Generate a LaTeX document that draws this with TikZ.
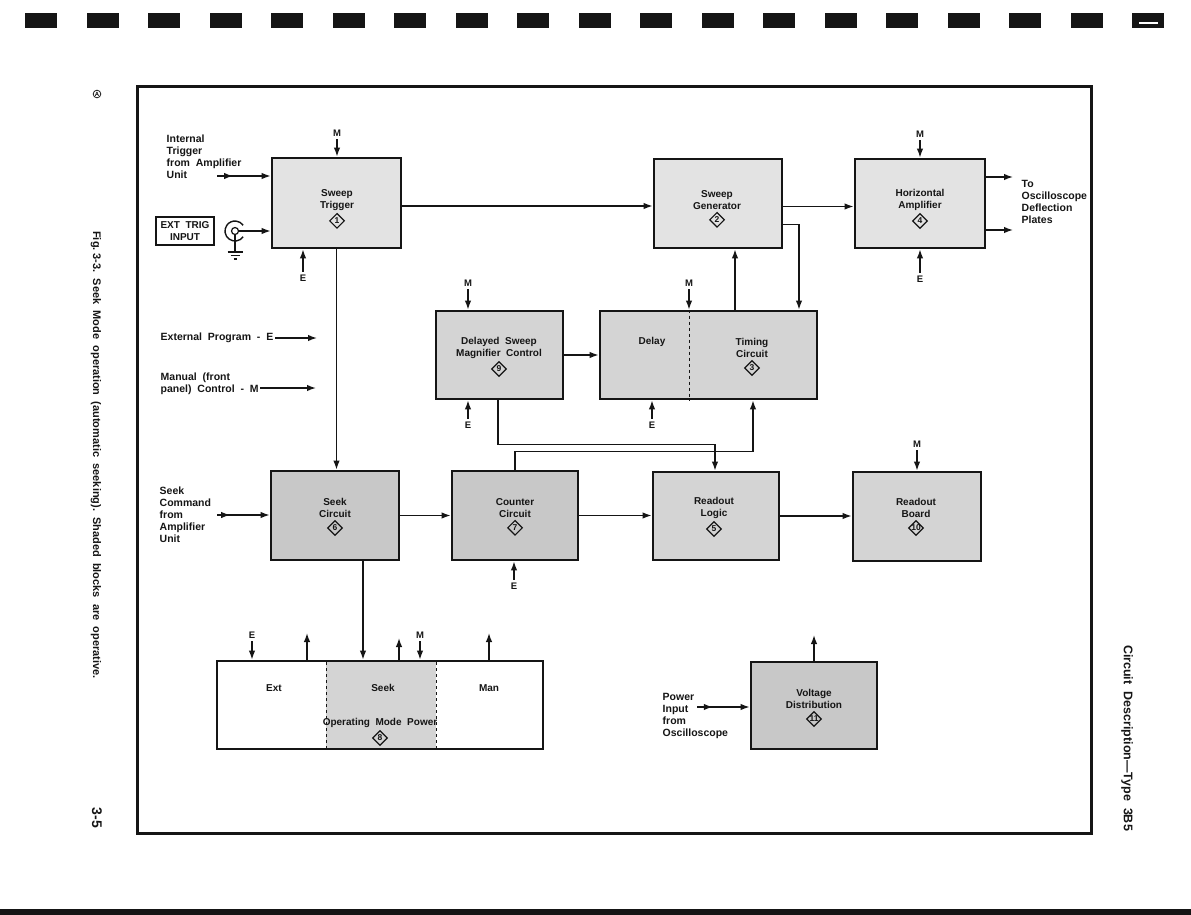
\documentclass[tikz,border=0pt]{standalone}
\usepackage{fontspec}
\setmainfont{Liberation Sans}
\usetikzlibrary{arrows.meta,calc,positioning,shapes.geometric,decorations.markings}
\definecolor{TekInk}{HTML}{151515}
\definecolor{TekShadeLt}{HTML}{E3E3E3}
\definecolor{TekShade}{HTML}{D4D4D4}
\definecolor{TekShadeDk}{HTML}{C8C8C8}
\tikzset{
  tek block/.style={
    draw=TekInk,
    fill=TekShade,
    line width=2.8pt,
    inner sep=0pt
  },
  tek text/.style={
    text=TekInk,
    align=center,
    inner sep=0pt,
    font=\fontsize{10}{12}\selectfont\bfseries
  },
  tek label/.style={
    text=TekInk,
    align=left,
    inner sep=1.5pt,
    font=\fontsize{10.5}{12}\selectfont\bfseries
  },
  tek tag/.style={
    text=TekInk,
    inner sep=3pt,
    font=\fontsize{9.5}{10}\selectfont\bfseries
  },
  tek num/.style={
    diamond,
    draw=TekInk,
    line width=1.2pt,
    inner sep=0pt,
    minimum size=15pt,
    text=TekInk,
    font=\fontsize{8.5}{9}\selectfont\bfseries
  },
  tek sig/.style={-{Latex[length=9pt,width=6.5pt]},draw=TekInk,line width=1.4pt},
  tek line/.style={draw=TekInk,line width=1.4pt},
  tek mid/.style={postaction={decorate},
    decoration={markings,mark=at position #1 with {\arrow{Latex[length=9pt,width=6.5pt]}}}}
}

\begin{document}
\begin{tikzpicture}[x=1pt,y=-1pt]
  \useasboundingbox (0,0) rectangle (1191,915);

  % page furniture
  \foreach \i in {0,...,18}
    \fill[TekInk] (25+61.5*\i,13) rectangle ++(32,15);
  \fill[white] (1139,22) rectangle (1158,24);
  \fill[TekInk] (0,909) rectangle (1191,915);
  \draw[TekInk,line width=3pt] (137,87) rectangle (1091,833);
  \node[circle,draw=TekInk,line width=0.8pt,inner sep=0.6pt,font=\fontsize{6}{6}\selectfont\bfseries] (rev) at (97,94) {A};
  \node[tek label,rotate=-90,font=\fontsize{11}{12}\selectfont\bfseries] (caption) at (96,455) {Fig.\ 3-3.\ \ Seek\ \ Mode\ \ operation\ \ (automatic\ \ seeking).\ \ Shaded\ \ blocks\ \ are\ \ operative.};
  \node[tek label,rotate=-90,font=\fontsize{12.5}{13}\selectfont\bfseries] (section) at (1127,738) {Circuit\ \ Description---Type\ \ 3B5};
  \node[tek label,rotate=-90,font=\fontsize{14}{14}\selectfont\bfseries] (page) at (97,818) {3-5};

  % blocks
  \node[tek block,fill=TekShadeLt,minimum width=129pt,minimum height=90pt] (trig) at (336.5,203) {};
  \node[tek text] (trigT) at (337,200) {Sweep\\Trigger};
  \node[tek num,below=2pt of trigT] (trigN) {1};

  \node[tek block,fill=TekShadeLt,minimum width=128pt,minimum height=89pt] (gen) at (718,203.5) {};
  \node[tek text] (genT) at (717,200) {Sweep\\Generator};
  \node[tek num,below=2pt of genT] (genN) {2};

  \node[tek block,fill=TekShadeLt,minimum width=130pt,minimum height=89pt] (hamp) at (920,203.5) {};
  \node[tek text] (hampT) at (920,200) {Horizontal\\Amplifier};
  \node[tek num,below=2pt of hampT] (hampN) {4};

  \node[tek block,minimum width=127pt,minimum height=88pt] (dsm) at (499.5,355) {};
  \node[tek text] (dsmT) at (499,348) {Delayed\ \ Sweep\\Magnifier\ \ Control};
  \node[tek num,below=2pt of dsmT] (dsmN) {9};

  \node[tek block,minimum width=217pt,minimum height=88pt] (dly) at (708.5,355) {};
  \draw[TekInk,line width=1pt,dashed] ([xshift=-19.5pt]dly.north) -- ([xshift=-19.5pt]dly.south);
  \node[tek text] (dlyT) at (652,342) {Delay};
  \node[tek text] (timT) at (752,348) {Timing\\Circuit};
  \node[tek num,below=2pt of timT] (timN) {3};

  \node[tek block,fill=TekShadeDk,minimum width=128pt,minimum height=89pt] (seek) at (335,515.5) {};
  \node[tek text] (seekT) at (335,508) {Seek\\Circuit};
  \node[tek num,below=2pt of seekT] (seekN) {6};

  \node[tek block,fill=TekShadeDk,minimum width=126pt,minimum height=89pt] (cnt) at (515,515.5) {};
  \node[tek text] (cntT) at (515,508) {Counter\\Circuit};
  \node[tek num,below=2pt of cntT] (cntN) {7};

  \node[tek block,minimum width=126pt,minimum height=88pt] (rdl) at (716,516) {};
  \node[tek text] (rdlT) at (714,508) {Readout\\Logic};
  \node[tek num,below=2pt of rdlT] (rdlN) {5};

  \node[tek block,minimum width=128pt,minimum height=89pt] (rdb) at (917,516.5) {};
  \node[tek text] (rdbT) at (916,508) {Readout\\Board};
  \node[tek num,below=2pt of rdbT] (rdbN) {\makebox[0pt]{10}};

  \node[tek block,fill=white,outer sep=0pt,minimum width=326pt,minimum height=88pt] (opm) at (380,705) {};
  \fill[TekShade] ([xshift=109pt]opm.south west) rectangle ([xshift=-107pt]opm.north east);
  \draw[TekInk,line width=1pt,dashed] ([xshift=109pt]opm.south west) -- ([xshift=109pt]opm.north west);
  \draw[TekInk,line width=1pt,dashed] ([xshift=-107pt]opm.south east) -- ([xshift=-107pt]opm.north east);
  \draw[TekInk,line width=2.8pt] (opm.south west) rectangle (opm.north east);
  \node[tek text] (opmExt) at (274,688) {Ext};
  \node[tek text] (opmSeek) at (383,688) {Seek};
  \node[tek text] (opmMan) at (489,688) {Man};
  \node[tek text] (opmT) at (380,723) {Operating\ \ Mode\ \ Power};
  \node[tek num,below=2pt of opmT] (opmN) {8};

  \node[tek block,fill=TekShadeDk,minimum width=126pt,minimum height=87pt] (vdist) at (814,705.5) {};
  \node[tek text] (vdistT) at (814,699) {Voltage\\Distribution};
  \node[tek num,below=2pt of vdistT] (vdistN) {\makebox[0pt]{11}};

  % outside labels
  \node[tek label,anchor=north west] (intTrig) at (165,133) {Internal\\Trigger\\from\ \ Amplifier\\Unit};
  \node[draw=TekInk,line width=1.3pt,tek text,inner sep=2pt,minimum width=58pt,minimum height=28pt] (extTrig) at (185,231) {EXT\ \ TRIG\\INPUT};
  \node[circle,draw=TekInk,line width=1.2pt,minimum size=7pt,inner sep=0pt] (jack) at (235,231) {};
  \draw[tek line] (jack) ++(35:10) arc (35:325:10);
  \coordinate (gnd) at (235,252);
  \draw[tek line] (jack.south) -- (gnd);
  \draw[tek line] ([xshift=-7.5pt]gnd) -- ([xshift=7.5pt]gnd)
    ([xshift=-4.5pt,yshift=-3.5pt]gnd) -- ([xshift=4.5pt,yshift=-3.5pt]gnd)
    ([xshift=-1.5pt,yshift=-7pt]gnd) -- ([xshift=1.5pt,yshift=-7pt]gnd);
  \node[tek label,anchor=north west] (toScope) at (1020,179) {To\\Oscilloscope\\Deflection\\Plates};
  \node[tek label,anchor=west] (extProg) at (159,338) {External\ \ Program\ \ -\ \ E};
  \node[tek label,anchor=north west] (manCtl) at (159,371) {Manual\ \ (front\\panel)\ \ Control\ \ -\ \ M};
  \node[tek label,anchor=north west] (seekCmd) at (158,485) {Seek\\Command\\from\\Amplifier\\Unit};
  \node[tek label,anchor=north west] (pwrIn) at (661,692) {Power\\Input\\from\\Oscilloscope};

  % E and M control tags
  \node[tek tag] (trigM) at (337,133) {M};
  \node[tek tag] (trigE) at (303,278) {E};
  \node[tek tag] (hampM) at (920,134) {M};
  \node[tek tag] (hampE) at (920,279) {E};
  \node[tek tag] (dsmM) at (468,283) {M};
  \node[tek tag] (dsmE) at (468,425) {E};
  \node[tek tag] (dlyM) at (689,283) {M};
  \node[tek tag] (dlyE) at (652,425) {E};
  \node[tek tag] (cntE) at (514,586) {E};
  \node[tek tag] (rdbM) at (917,444) {M};
  \node[tek tag] (opmE) at (252,635) {E};
  \node[tek tag] (opmM) at (420,635) {M};

  \coordinate (intIn) at (217,176);
  \coordinate (seekIn) at (217,515);
  \coordinate (pwrSrc) at (697,707);
  \coordinate (extTip) at (317,338);
  \coordinate (manTip) at (316,388);
  \coordinate (defl1) at (1013,177);
  \coordinate (defl2) at (1013,230);
  \coordinate (opmUp1) at (307,633);
  \coordinate (opmUp2) at (399,638);
  \coordinate (opmUp3) at (489,633);
  \coordinate (vdistUp) at (814,635);

  % signal paths
  \draw[tek sig,tek mid=0.3] (intIn) -- (intIn -| trig.west);
  \draw[tek sig] (jack) -- (jack -| trig.west);
  \draw[tek sig] ([yshift=-3pt]trig.east) -- ([yshift=-3pt]trig.east -| gen.west);
  \draw[tek sig] ([yshift=-3pt]gen.east) -- ([yshift=-3pt]gen.east -| hamp.west);
  \draw[tek sig] ([yshift=26.5pt]hamp.east) -- (defl1);
  \draw[tek sig] ([yshift=-26.5pt]hamp.east) -- (defl2);
  \draw[tek sig] ([yshift=-21pt]gen.east) -| ([xshift=90.5pt]dly.north);
  \draw[tek sig] ([xshift=26.5pt]dly.north) -- ([xshift=26.5pt]dly.north |- gen.south);
  \draw[tek sig] (dsm) -- (dly);
  \draw[tek sig] (trig.south) -- (trig.south |- seek.north);
  \draw[tek sig] ([xshift=-1.5pt]dsm.south) -- ++(0,44) -| ([xshift=-1pt]rdl.north);
  \draw[tek sig] (cnt.north) -- ++(0,-18) -| ([xshift=44.5pt]dly.south);
  \draw[tek sig,tek mid=0.25] (seekIn) -- (seekIn -| seek.west);
  \draw[tek sig] (seek) -- (cnt);
  \draw[tek sig] (cnt.east) -- (cnt.east -| rdl.west);
  \draw[tek sig] (rdl.east) -- (rdl.east -| rdb.west);
  \draw[tek sig] ([xshift=28pt]seek.south) -- ([xshift=28pt,yshift=1.4pt]seek.south |- opm.north);
  \draw[tek sig,tek mid=0.3] (pwrSrc) -- (pwrSrc -| vdist.west);
  \draw[tek sig] (vdist.north) -- (vdistUp);
  \draw[tek sig] (opmUp1 |- opm.north) -- (opmUp1);
  \draw[tek sig] (opmUp2 |- opm.north) -- (opmUp2);
  \draw[tek sig] (opmUp3 |- opm.north) -- (opmUp3);
  \draw[tek sig] (extProg) -- (extTip);
  \draw[tek sig] (manCtl.east |- manTip) -- (manTip);

  % control inputs
  \draw[tek sig] (trigM) -- (trigM |- trig.north);
  \draw[tek sig] (trigE) -- (trigE |- trig.south);
  \draw[tek sig] (hampM) -- (hampM |- hamp.north);
  \draw[tek sig] (hampE) -- (hampE |- hamp.south);
  \draw[tek sig] (dsmM) -- (dsmM |- dsm.north);
  \draw[tek sig] (dsmE) -- (dsmE |- dsm.south);
  \draw[tek sig] (dlyM) -- (dlyM |- dly.north);
  \draw[tek sig] (dlyE) -- (dlyE |- dly.south);
  \draw[tek sig] (cntE) -- (cntE |- cnt.south);
  \draw[tek sig] (rdbM) -- (rdbM |- rdb.north);
  \draw[tek sig] (opmE) -- ([yshift=1.4pt]opmE |- opm.north);
  \draw[tek sig] (opmM) -- ([yshift=1.4pt]opmM |- opm.north);
\end{tikzpicture}
\end{document}
